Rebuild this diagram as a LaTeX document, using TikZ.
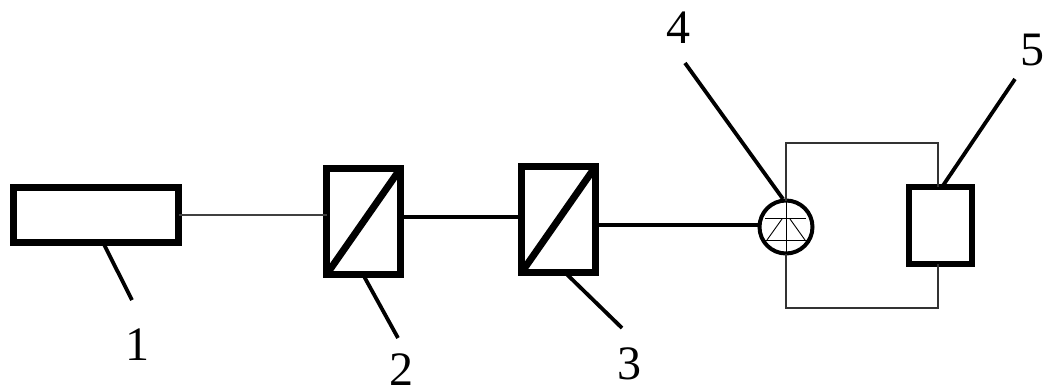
\documentclass[tikz,border=0pt]{standalone}
\usepackage{fontspec}
\setmainfont{Liberation Serif}
\begin{document}
\begin{tikzpicture}[x=1pt,y=-1pt,
  thickbox/.style={draw=black,line width=7pt,rectangle,inner sep=0pt,outer sep=0pt,fill=white},
  leader/.style={draw=black,line width=3.8pt},
  wire/.style={draw=black,line width=3.8pt},
  thinwire/.style={draw=black!80,line width=1.2pt},
  finewire/.style={draw=black,line width=0.9pt},
  lbl/.style={inner sep=0pt,font=\fontsize{48}{52}\selectfont}]
\useasboundingbox (0,0) rectangle (1044,389);
% outer thin circuit rectangle
\coordinate (rtl) at (786,143);
\coordinate (rtr) at (938,143);
\coordinate (rbl) at (786,308);
\coordinate (rbr) at (938,308);
% components
\node[thickbox,minimum width=165pt,minimum height=55pt] (b1) at (96,215) {};
\node[thickbox,minimum width=74pt,minimum height=106pt] (b2) at (363.5,221.5) {};
\node[thickbox,minimum width=74pt,minimum height=106pt] (b3) at (558.5,219.5) {};
\node[thickbox,line width=6pt,minimum width=63pt,minimum height=77pt] (b5) at (940.5,225.5) {};
\node[circle,draw=black,line width=4pt,minimum size=53pt,inner sep=0pt,outer sep=0pt] (d4) at (786,227) {};
% diagonals
\draw[line width=7pt] (b2.south west) -- (b2.north east);
\draw[line width=7pt] (b3.south west) -- (b3.north east);
% connectors
\draw[thinwire,draw=black!75] (b1.east) -- (b1.east -| b2.west);
\draw[wire] (b2.east |- 0,217) -- (b3.west |- 0,217);
\draw[wire] (b3.east |- 0,225) -- (d4.west |- 0,225);
% circuit loop
\draw[thinwire] (d4.north) -- (rtl) -- (rtr) -- (b5.north -| rtr);
\draw[thinwire] (b5.south -| rbr) -- (rbr) -- (rbl) -- (d4.south);
% diode symbol inside circle
\draw[finewire] (d4.north) -- (d4.south);
\draw[finewire] (765,218) -- (806,218);
\draw[finewire] (765,240) -- (807,240);
\draw[finewire] (782,219) -- (767,240);
\draw[finewire] (790,219) -- (805,240);
% leader lines
\coordinate (t1) at (132,300);
\coordinate (t2) at (398,338);
\coordinate (t3) at (622,328);
\coordinate (t4) at (685,63);
\coordinate (t5) at (1015,79);
\draw[leader] (b1.south -| 103,0) -- (t1);
\draw[leader] (b2.south -| 363,0) -- (t2);
\draw[leader] (b3.south -| 565,0) -- (t3);
\draw[leader] (t4) -- (783,199);
\draw[leader] (b5.north -| 942,0) -- (t5);
% labels
\node[lbl] (n1) at (137,345) {1};
\node[lbl] (n2) at (401,369.5) {2};
\node[lbl] (n3) at (629,364) {3};
\node[lbl] (n4) at (678,28) {4};
\node[lbl] (n5) at (1032,50) {5};
\end{tikzpicture}
\end{document}
